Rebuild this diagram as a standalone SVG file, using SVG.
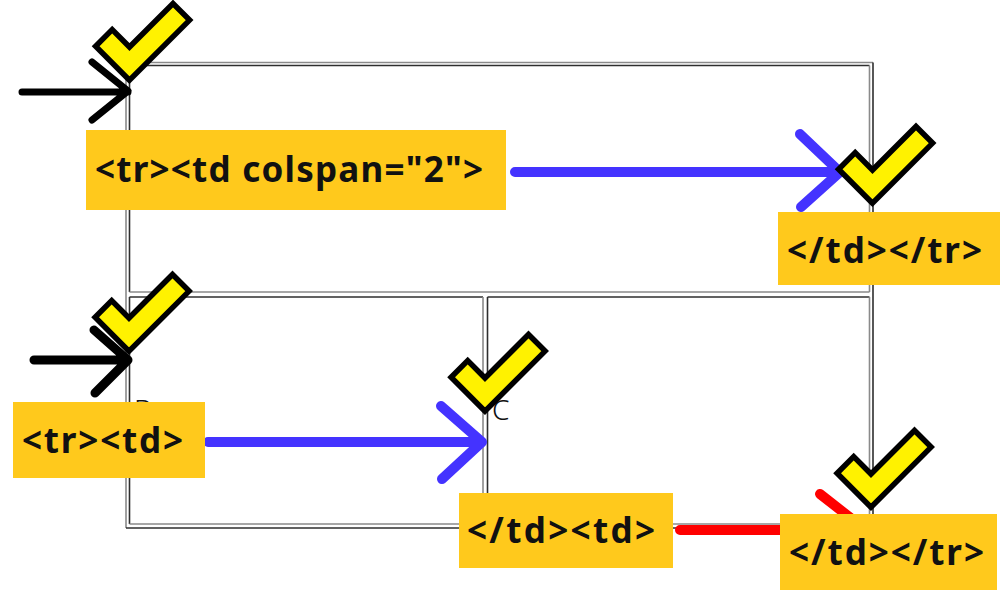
<svg xmlns="http://www.w3.org/2000/svg" xmlns:xlink="http://www.w3.org/1999/xlink" width="1000" height="590" viewBox="0 0 1000 590">
  <style>
    .lt { stroke: #8a8a8a; stroke-width: 1.6; fill: none; }
    .dk { stroke: #2e2e2e; stroke-width: 1.6; fill: none; }
    .cell { font-family: "Noto Sans", "Open Sans", sans-serif; font-size: 28px; font-weight: 300; fill: #111; }
    .lbl rect { fill: #FFC91C; }
    .lbl text { font-family: "Noto Sans", "Open Sans", sans-serif; font-size: 35px; font-weight: bold; fill: #111; }
    .arrow { fill: none; stroke-linecap: round; stroke-linejoin: round; }
    .check { fill: #FFF200; stroke: #000; stroke-width: 5.5; stroke-linejoin: miter; }
  </style>
  <defs>
    <polygon id="chk" class="check" points="0,-3.8 -33.9,-37.7 -17.3,-54.4 0,-37 43.5,-80.5 60.1,-63.9"/>
  </defs>
  <rect width="1000" height="590" fill="#fff"/>

  <g id="table">
    <line class="lt" x1="126" y1="62.5" x2="873" y2="62.5"/>
    <line class="lt" x1="126" y1="62.5" x2="126" y2="528"/>
    <line class="dk" x1="873" y1="62.5" x2="873" y2="528"/>
    <line class="dk" x1="126" y1="528" x2="873" y2="528"/>
    <g id="cellA">
      <line class="dk" x1="129.5" y1="65.5" x2="869.5" y2="65.5"/>
      <line class="dk" x1="129.5" y1="65.5" x2="129.5" y2="292"/>
      <line class="lt" x1="869.5" y1="65.5" x2="869.5" y2="292"/>
      <line class="lt" x1="129.5" y1="292" x2="869.5" y2="292"/>
    </g>
    <g id="cellB">
      <line class="dk" x1="129.5" y1="297" x2="483" y2="297"/>
      <line class="dk" x1="129.5" y1="297" x2="129.5" y2="524"/>
      <line class="lt" x1="483" y1="297" x2="483" y2="524"/>
      <line class="lt" x1="129.5" y1="524" x2="483" y2="524"/>
      <text class="cell" x="134" y="420">B</text>
    </g>
    <g id="cellC">
      <line class="dk" x1="487.5" y1="297" x2="869.5" y2="297"/>
      <line class="dk" x1="487.5" y1="297" x2="487.5" y2="524"/>
      <line class="lt" x1="869.5" y1="297" x2="869.5" y2="524"/>
      <line class="lt" x1="487.5" y1="524" x2="869.5" y2="524"/>
      <text class="cell" x="492" y="420">C</text>
    </g>
  </g>

  <g id="connectors">
    <path class="arrow" stroke="#000" stroke-width="7" d="M22,92 H128 M92,62 L128,91 L92,120"/>
    <path class="arrow" stroke="#000" stroke-width="9" d="M34,360 H128 M94,330 L128,360 L95,393"/>
    <path class="arrow" stroke="#4433FF" stroke-width="10" d="M515,172 H840 M800,134 L840,172 L801,207"/>
    <path class="arrow" stroke="#4433FF" stroke-width="10" d="M208,442 H482 M441,406 L482,442 L442,479"/>
    <path class="arrow" stroke="#FF0000" stroke-width="10" d="M680,530 H866 M820,494 L866,530 L820,566"/>
  </g>

  <g id="checks">
    <use id="check1" xlink:href="#chk" href="#chk" x="129.5" y="84"/>
    <use id="check2" xlink:href="#chk" href="#chk" x="872.5" y="207"/>
    <use id="check3" xlink:href="#chk" href="#chk" x="129" y="355"/>
    <use id="check4" xlink:href="#chk" href="#chk" x="485" y="415"/>
    <use id="check5" xlink:href="#chk" href="#chk" x="871" y="511"/>
  </g>

  <g id="label1" class="lbl">
    <rect x="86" y="130" width="420" height="80"/>
    <text x="95" y="182" textLength="388" lengthAdjust="spacing">&lt;tr&gt;&lt;td colspan="2"&gt;</text>
  </g>
  <g id="label2" class="lbl">
    <rect x="778" y="212" width="222" height="73"/>
    <text x="787" y="263" textLength="195" lengthAdjust="spacing">&lt;/td&gt;&lt;/tr&gt;</text>
  </g>
  <g id="label3" class="lbl">
    <rect x="13" y="402" width="192" height="76"/>
    <text x="22" y="453" textLength="161" lengthAdjust="spacing">&lt;tr&gt;&lt;td&gt;</text>
  </g>
  <g id="label4" class="lbl">
    <rect x="459" y="493" width="214" height="75"/>
    <text x="467" y="543" textLength="188" lengthAdjust="spacing">&lt;/td&gt;&lt;td&gt;</text>
  </g>
  <g id="label5" class="lbl">
    <rect x="780" y="514" width="217" height="76"/>
    <text x="789" y="565" textLength="195" lengthAdjust="spacing">&lt;/td&gt;&lt;/tr&gt;</text>
  </g>
</svg>
